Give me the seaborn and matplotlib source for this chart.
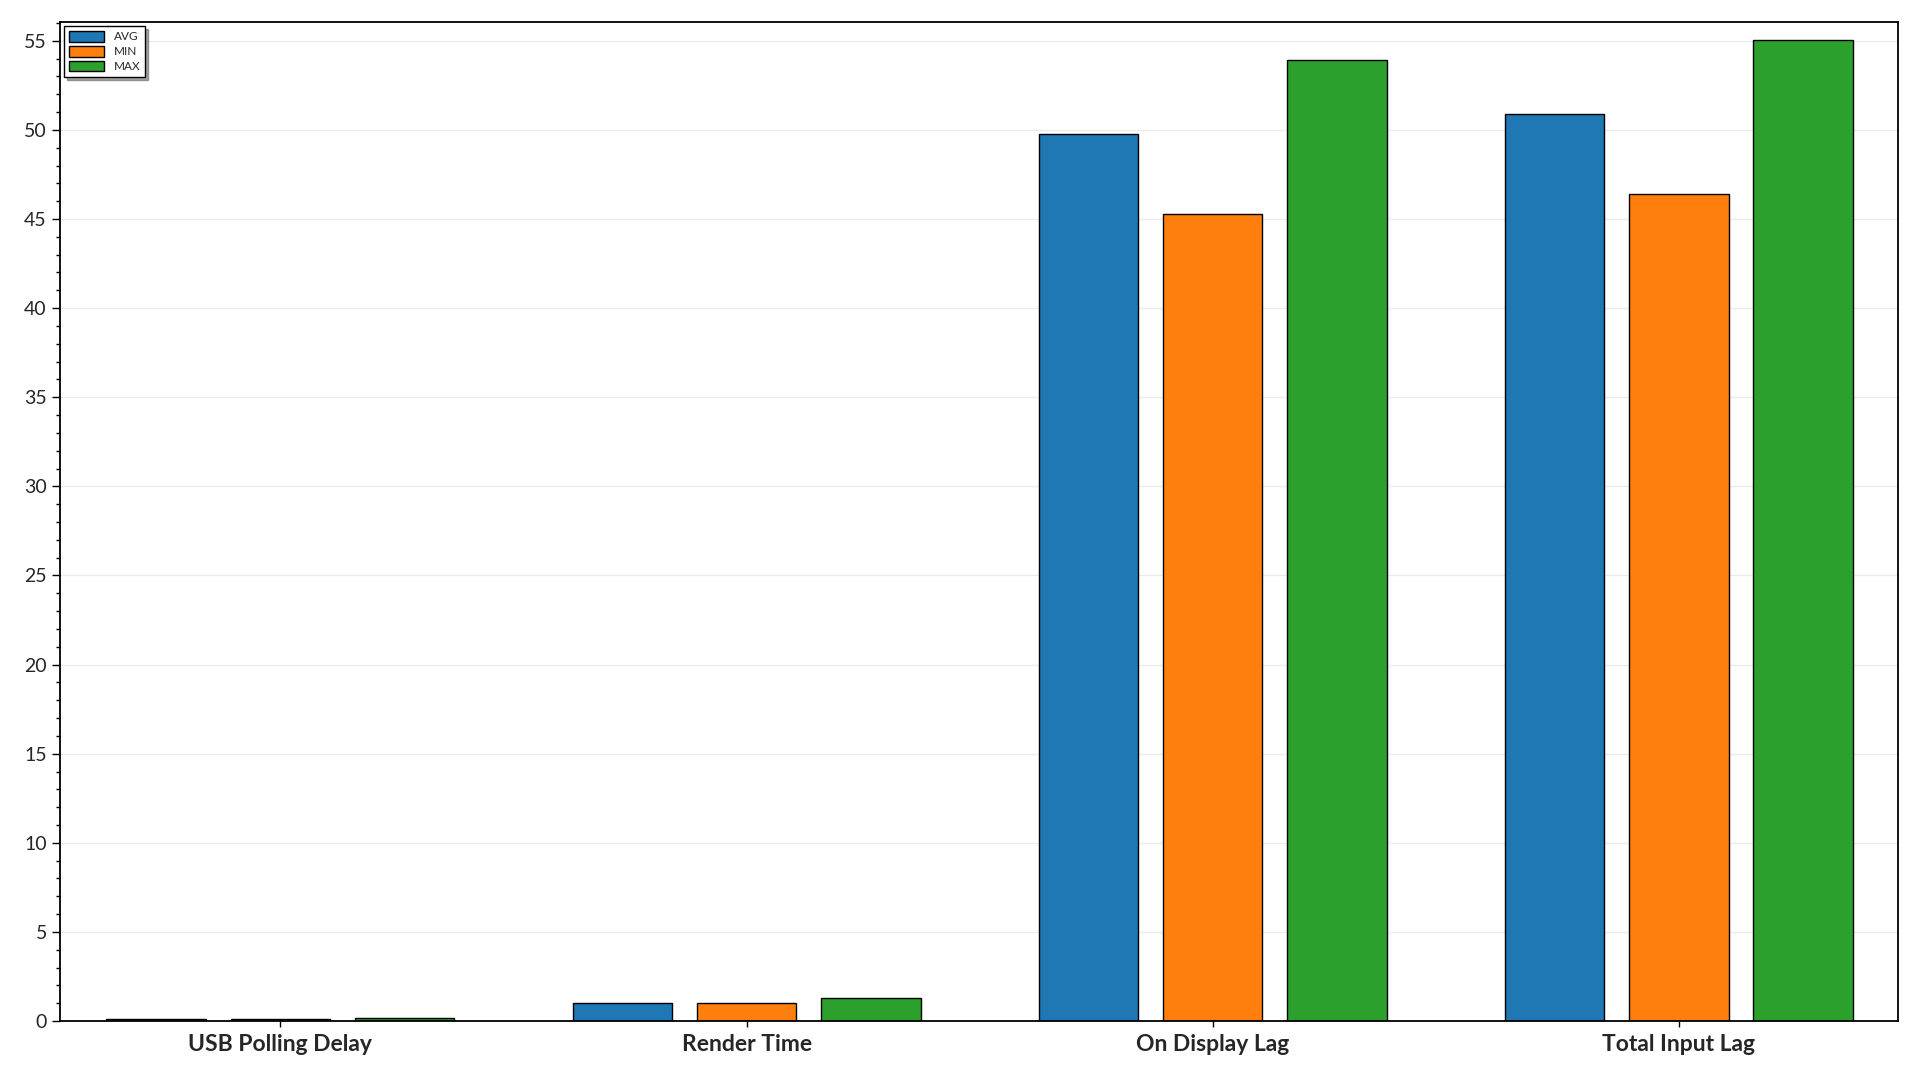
import pandas as pd
import seaborn as sns
import matplotlib.pyplot as plt
from matplotlib.ticker import MultipleLocator

# values
categories = ['USB Polling Delay', 'Render Time', 'On Display Lag', 'Total Input Lag']
avg_vals = [0.13, 1.01, 49.79, 50.92]
min_vals = [0.12, 0.99, 45.26, 46.40]
max_vals = [0.15, 1.31, 53.93, 55.04]
series = ['AVG', 'MIN', 'MAX']

df = pd.DataFrame({
    'category': categories * 3,
    'value': avg_vals + min_vals + max_vals,
    'stat': [s for s in series for _ in categories],
})

sns.set_style("white")
plt.rcParams['font.family'] = ['Lato', 'DejaVu Sans']

fig = plt.figure(figsize=(19.2, 10.8), dpi=100)
ax = fig.add_axes([0.03125, 0.0546, 0.9885 - 0.03125, 0.9794 - 0.0546])

sns.barplot(data=df, x='category', y='value', hue='stat', order=categories,
            hue_order=series, palette=['#1f77b4', '#ff7f0e', '#2ca02c'],
            saturation=1, gap=0.2, edgecolor='black', linewidth=1, ax=ax)

ax.set_xlim(-0.473, 3.47)
ax.set_ylim(0, 56.04)
ax.yaxis.set_major_locator(MultipleLocator(5))
ax.yaxis.set_minor_locator(MultipleLocator(1))
ax.grid(axis='y', which='major', color='#ebebeb', linewidth=1)
ax.set_axisbelow(True)
ax.set_xlabel('')
ax.set_ylabel('')

for sp in ax.spines.values():
    sp.set_color('black')
    sp.set_linewidth(1.3)

ax.tick_params(axis='y', which='major', direction='out', length=6, width=1,
               labelsize=14, labelcolor='#262626', left=True, color='black')
ax.tick_params(axis='y', which='minor', direction='out', length=3, width=1,
               left=True, color='black')
ax.tick_params(axis='x', direction='out', length=4, width=1, bottom=True,
               labelsize=16.5, color='black', pad=5)
for lbl in ax.get_xticklabels():
    lbl.set_fontweight('bold')

leg = ax.legend(loc='upper left', fontsize=8.5, frameon=True, fancybox=False,
                shadow=True, handlelength=3.0, handleheight=1.0,
                borderaxespad=0.35, labelspacing=0.3, title=None)
leg.get_frame().set_edgecolor('black')
leg.get_frame().set_linewidth(1)
for h in leg.legend_handles:
    h.set_edgecolor('black')

fig.savefig('out.png', dpi=100)
